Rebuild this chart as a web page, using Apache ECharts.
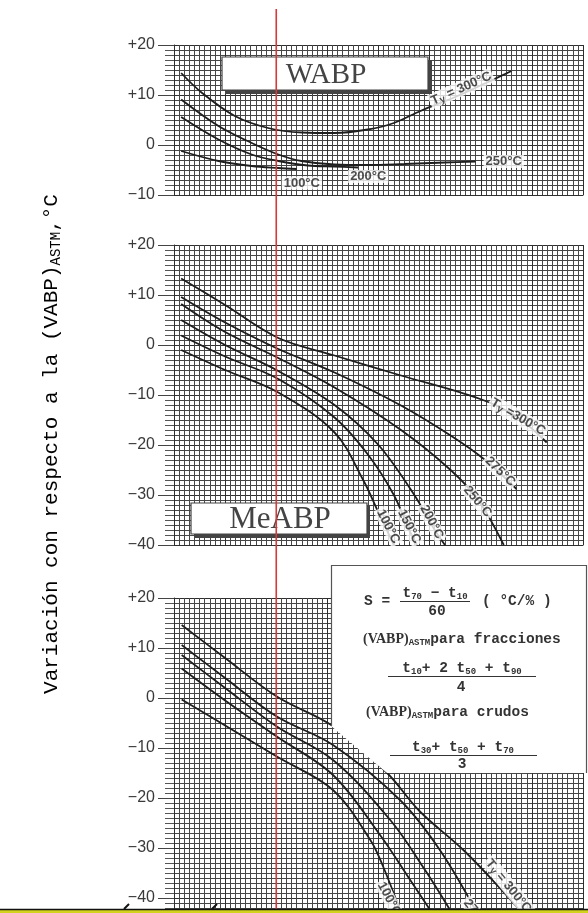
<!DOCTYPE html>
<html><head><meta charset="utf-8">
<script src="https://cdn.jsdelivr.net/npm/echarts@6/dist/echarts.min.js"></script>
<style>html,body{margin:0;padding:0;background:#fff}#c{width:588px;height:913px}</style>
</head><body><div id="c"></div>
<script>
// ---------- data ----------
const slopeRange = [0, 8];
const markerSlope = 2;
const wabpRange = [-10, 20];
const meabpRange = [-40, 20];
const bottomRange = [-50, 20];

// WABP panel curves  [slope, variation]
const wabp300 = [[0.14,14.4],[0.55,10.4],[1.19,5.8],[1.84,3.4],[2.5,2.5],[3.14,2.4],[3.79,3.1],[4.3,4.4],[4.82,6.8],[5.5,9.6],[6.1,12.4],[6.6,14.8]];
const wabp250 = [[0.14,9.1],[0.87,3.8],[1.52,0.4],[2.04,-1.9],[2.49,-3.2],[3.14,-3.9],[3.8,-4.0],[4.5,-3.8],[5.3,-3.5],[5.9,-3.3]];
const wabp200 = [[0.14,5.6],[0.87,1.1],[1.52,-1.9],[2.04,-3.2],[2.62,-4.1],[3.14,-4.3],[3.6,-4.5]];
const wabp100 = [[0.14,-1.2],[0.87,-3.2],[1.52,-4.2],[2.04,-4.6],[2.4,-4.8]];
const wabpLabels = [['T y = 300°C',5.62,11.3],['250°C',6.45,-3.3],['200°C',3.8,-6.3],['100°C',2.5,-7.6]];

// MeABP panel curves
const meabp300 = [[0.14,13.3],[1.0,8.0],[2.04,1.4],[3.14,-2.1],[4.44,-6.1],[5.99,-10.8],[6.7,-14.3],[7.29,-19.5]];
const meabp275 = [[0.14,9.6],[1.0,4.5],[2.04,-0.8],[3.14,-5.5],[4.44,-12.1],[5.41,-18.1],[6.06,-22.8],[6.7,-28.8]];
const meabp250 = [[0.14,8.2],[1.0,2.6],[2.04,-2.6],[3.14,-8.5],[4.44,-17],[5.41,-25],[5.95,-31],[6.45,-40]];
const meabp200 = [[0.14,5.0],[1.0,0.0],[2.04,-5.2],[3.14,-12],[4.0,-20],[4.7,-30],[5.1,-37],[5.3,-40]];
const meabp150 = [[0.14,1.9],[1.0,-2.3],[2.04,-6.8],[3.14,-14.5],[3.8,-22],[4.3,-30],[4.6,-37],[4.75,-40]];
const meabp100 = [[0.14,-1.0],[1.0,-5.0],[2.04,-9.5],[3.14,-17.5],[3.7,-27],[4.0,-33.5],[4.3,-40]];
const meabpLabels = [['T y =300°C',6.73,-14.4],['275°C',6.38,-25.3],['250°C',5.94,-31.3],['200°C',5.04,-35.4],['150°C',4.6,-36.3],['100°C',4.19,-36.3]];

// third panel curves
const low300 = [[0.15,14.6],[1.0,8.0],[2.01,0.3],[3.12,-5.7],[4.16,-14.9],[4.81,-22.7],[5.66,-30.4],[6.48,-39.2],[6.97,-45]];
const low275 = [[0.15,10.6],[1.0,4.0],[2.01,-3.7],[3.11,-9.4],[4.42,-20.4],[5.2,-30.4],[5.95,-43.4]];
const low250 = [[0.15,8.6],[1.0,2.0],[2.01,-5.7],[3.11,-12.4],[4.23,-24.4],[4.91,-34.4],[5.4,-42.4]];
const low200 = [[0.15,5.9],[1.0,-0.5],[2.01,-7.7],[3.11,-15.4],[4.03,-27.4],[4.62,-36.4],[5.01,-42.4]];
const low100 = [[0.15,-0.3],[1.0,-5.5],[2.01,-11.7],[3.11,-18.4],[3.84,-28.4],[4.09,-33.7],[4.42,-42.4]];
const lowLabels = [['T y = 300°C',6.54,-37.6],['275°C',5.93,-43.4],['100°C',4.21,-40.2]];

const tickFmt = v => v > 0 ? '+' + v : (v < 0 ? '\u2212' + (-v) : '0');

// ---------- styles ----------
const gridTops = [45, 245, 598];
const gridHeights = [150, 300, 350];
const gridLeft = 174, gridRight = 5;
const labelRot = [[24,0,0,0],[-30,-44,-50,-62,-63,-63],[-51,-52,-62]];
const curveColor = '#1e1e1e';
const minorColor = '#464646', majorColor = '#2e2e2e';

const ranges = [wabpRange, meabpRange, bottomRange];
const curves = [[wabp300,wabp250,wabp200,wabp100],[meabp300,meabp275,meabp250,meabp200,meabp150,meabp100],[low300,low275,low250,low200,low100]];
const labels = [wabpLabels, meabpLabels, lowLabels];

const grids = [], xAxes = [], yAxes = [], series = [];
for (let i = 0; i < 3; i++) {
  grids.push({left: gridLeft, right: gridRight, top: gridTops[i], height: gridHeights[i], containLabel: false, outerBoundsMode: 'none'});
  xAxes.push({gridIndex: i, type: 'value', min: slopeRange[0], max: slopeRange[1], interval: 1,
    axisLabel: {show: false}, axisTick: {show: false},
    axisLine: {show: true, onZero: false, lineStyle: {color: majorColor, width: 1}},
    splitLine: {show: true, lineStyle: {color: majorColor, width: 1}},
    minorTick: {show: false, splitNumber: 10},
    minorSplitLine: {show: true, lineStyle: {color: minorColor, width: 1}}});
  yAxes.push({gridIndex: i, type: 'value', min: ranges[i][0], max: ranges[i][1], interval: 10,
    axisLine: {show: true, lineStyle: {color: majorColor, width: 1}},
    axisTick: {show: true, length: 16, lineStyle: {color: '#444', width: 1}},
    minorTick: {show: true, splitNumber: 10, length: 9, lineStyle: {color: '#555', width: 1}},
    splitLine: {show: true, lineStyle: {color: majorColor, width: 1}},
    minorSplitLine: {show: true, lineStyle: {color: minorColor, width: 1}},
    axisLabel: {formatter: tickFmt, color: '#3a3a3a', fontSize: 16, fontFamily: 'Liberation Sans', margin: 19}});
  curves[i].forEach(c => series.push({type: 'line', xAxisIndex: i, yAxisIndex: i, data: c, smooth: 0.35,
    showSymbol: false, silent: true, lineStyle: {color: curveColor, width: 1.8}, z: 3}));
  series.push({type: 'scatter', xAxisIndex: i, yAxisIndex: i, symbolSize: 0, z: 5, silent: true,
    data: labels[i].map((l, k) => ({value: [l[1], l[2]], name: l[0],
      label: {rotate: labelRot[i][k]}})),
    label: {show: true, position: 'inside', color: '#222', fontFamily: 'Liberation Sans', fontWeight: 'bold', fontSize: 13,
      backgroundColor: '#fff', padding: [0, 2],
      formatter: p => p.name.startsWith('T y') ? '{a|T}{s|y}{a|' + p.name.slice(3) + '}' : p.name,
      rich: {a: {fontSize: 13, fontWeight: 'bold', color: '#222', lineHeight: 15},
             s: {fontSize: 10, fontWeight: 'bold', color: '#222', lineHeight: 9, verticalAlign: 'bottom'}}}});
}

const chart = echarts.init(document.getElementById('c'));
chart.setOption({animation: false, backgroundColor: '#fff', grid: grids, xAxis: xAxes, yAxis: yAxes, series: series});

// ---------- annotations ----------
const redX = chart.convertToPixel({xAxisIndex: 0}, markerSlope);
const mono = 'Liberation Mono';
const boxRich = {m: {fontFamily: mono, fontWeight: 'bold', fontSize: 14.5, lineHeight: 17, color: '#333'},
                 v: {fontFamily: 'Liberation Serif', fontWeight: 'bold', fontSize: 14, lineHeight: 17, color: '#333'},
                 s: {fontFamily: mono, fontWeight: 'bold', fontSize: 9, lineHeight: 8, verticalAlign: 'bottom', color: '#333'}};
function rt(x, y, text, align) {
  return {type: 'text', z: 20, x: x, y: y, style: {text: text, rich: boxRich, align: align || 'left', verticalAlign: 'middle', font: 'bold 14px ' + mono, fill: '#333'}};
}
function ln(x1, y1, x2, y2, color, w, z) {
  return {type: 'line', z: z || 20, shape: {x1: x1, y1: y1, x2: x2, y2: y2}, style: {stroke: color, lineWidth: w}};
}
const graphics = [
  // WABP label box
  {type: 'rect', z: 10, shape: {x: 225, y: 60, width: 207, height: 34}, style: {fill: '#444'}},
  {type: 'rect', z: 11, shape: {x: 222, y: 57, width: 206, height: 33}, style: {fill: '#fff', stroke: '#444', lineWidth: 1.2}},
  {type: 'text', z: 12, x: 326, y: 75, style: {text: 'WABP', font: '29px "Liberation Serif"', fill: '#444', align: 'center', verticalAlign: 'middle'}},
  // MeABP label box
  {type: 'rect', z: 10, shape: {x: 194, y: 506, width: 176, height: 32}, style: {fill: '#444'}},
  {type: 'rect', z: 11, shape: {x: 191, y: 503, width: 176, height: 31}, style: {fill: '#fff', stroke: '#444', lineWidth: 1.2}},
  {type: 'text', z: 12, x: 280, y: 520, style: {text: 'MeABP', font: '31px "Liberation Serif"', fill: '#444', align: 'center', verticalAlign: 'middle'}},
  // legend box
  {type: 'polygon', z: 15, shape: {points: [[331,565],[587,565],[587,773],[387,773],[331,726]]}, style: {fill: '#fff'}},
  ln(331, 565.5, 587, 565.5, '#555', 1.2),
  ln(586.5, 565, 586.5, 773, '#555', 1.2),
  ln(331.5, 565, 331.5, 726, '#555', 1.2),
  rt(364, 601, '{m|S =}'),
  rt(435, 593, '{m|t}{s|70}{m| \u2212 t}{s|10}', 'center'),
  ln(400, 601.5, 470, 601.5, '#333', 1.2),
  rt(437, 611, '{m|60}', 'center'),
  rt(482, 601, '{m|( °C/% )}'),
  rt(363, 639, '{v|(VABP)}{s|ASTM}{m|para fracciones}'),
  rt(462, 668, '{m|t}{s|10}{m|+ 2 t}{s|50}{m| + t}{s|90}', 'center'),
  ln(388, 676.5, 536, 676.5, '#333', 1.2),
  rt(461, 687, '{m|4}', 'center'),
  rt(366, 712, '{v|(VABP)}{s|ASTM}{m|para crudos}'),
  rt(463, 747, '{m|t}{s|30}{m|+ t}{s|50}{m| + t}{s|70}', 'center'),
  ln(390, 755.5, 537, 755.5, '#333', 1.2),
  rt(462, 764, '{m|3}', 'center'),
  // axis title
  {type: 'text', z: 20, x: 51, y: 444, rotation: Math.PI / 2,
   style: {text: '{m|Variación con respecto a la (VABP)}{s|ASTM}{m|,°C}', align: 'center', verticalAlign: 'middle',
     rich: {m: {fontFamily: mono, fontSize: 21, lineHeight: 24, color: '#4a4a4a'},
            s: {fontFamily: mono, fontSize: 14, lineHeight: 12, verticalAlign: 'bottom', color: '#4a4a4a'}}}},
  // red marker line
  ln(redX, 9, redX, 910, '#d8383a', 1.6, 30),
  // bottom strip
  {type: 'rect', z: 40, shape: {x: 0, y: 909, width: 588, height: 4}, style: {fill: '#d2d21e'}},
  ln(0, 909.5, 588, 909.5, '#111', 1.5, 41),
  ln(124, 909, 129, 904, '#111', 2, 41),
  ln(212, 909, 217, 904, '#111', 2, 41)
];
chart.setOption({graphic: graphics});
</script></body></html>
